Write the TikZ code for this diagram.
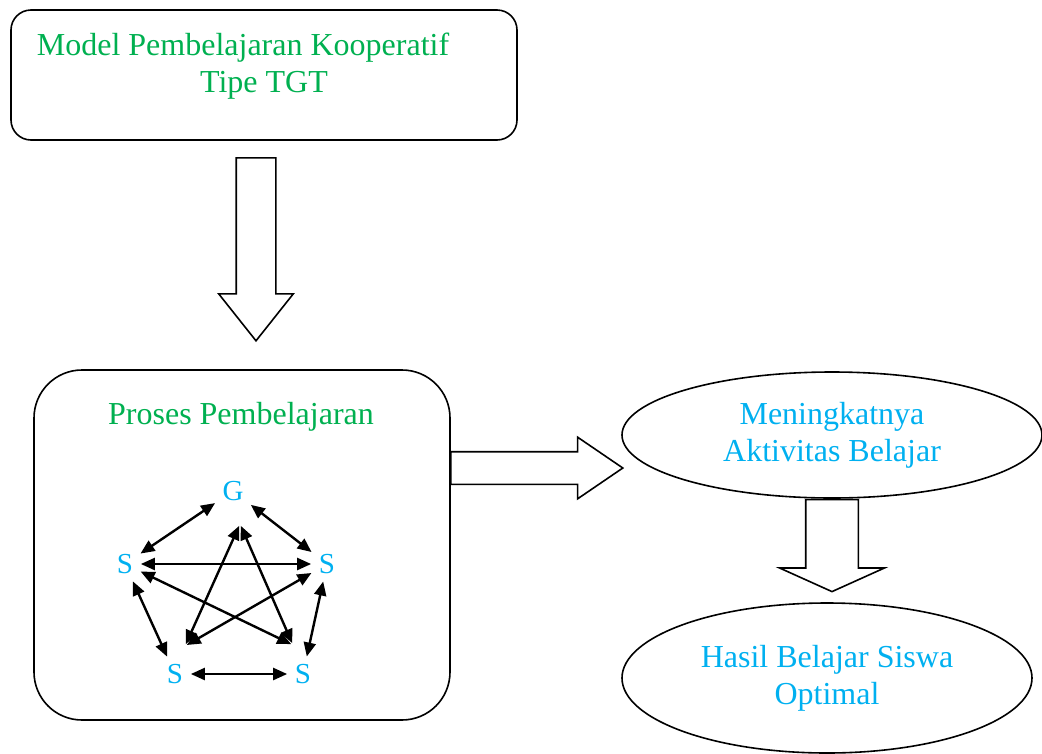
\documentclass[tikz,border=0pt]{standalone}
\usepackage{fontspec}
\setmainfont{Liberation Serif}
\usetikzlibrary{positioning,arrows.meta,shapes.geometric,shapes.arrows}
\definecolor{tgtgreen}{HTML}{00B050}
\definecolor{tgtblue}{HTML}{00B0F0}

\begin{document}
\begin{tikzpicture}[x=1pt, y=-1pt, line width=1.6pt,
  >={Triangle[length=14pt,width=12pt]},
  every node/.style={font=\fontsize{32}{37}\selectfont, align=center},
  box/.style={draw, rounded corners=#1, inner sep=0pt}, box/.default=20pt,
  fatarrow/.style={draw, single arrow, single arrow head indent=0pt,
    inner xsep=0pt, minimum width=0pt, anchor=tail},
  oval/.style={draw, ellipse, inner sep=0pt, text=tgtblue},
  person/.style={text=tgtblue, font=\fontsize{29}{32}\selectfont, inner sep=5pt},
  link/.style={<->, line width=2.4pt, shorten <=2pt, shorten >=2pt}]
  \useasboundingbox (0,0) rectangle (1042,753);

  % model box
  \node[box, minimum width=506pt, minimum height=130pt] (model) at (264,75) {};
  \node[text=tgtgreen] (modeltxt) at (243,66)
    {Model Pembelajaran Kooperatif\\\hspace*{42pt}Tipe TGT};

  % process box
  \node[box=48pt, minimum width=416pt, minimum height=350pt] (proses) at (242,545) {};
  \node[text=tgtgreen, anchor=base] (prosestxt) at (241,424) {Proses Pembelajaran};

  % outcomes
  \node[oval, minimum width=420pt, minimum height=126pt] (aktiv) at (832,435)
    {Meningkatnya\\Aktivitas Belajar};
  \node[oval, minimum width=410pt, minimum height=150pt] (hasil) at (827,678)
    {Hasil Belajar Siswa\\Optimal};

  % block arrows
  \node[fatarrow, rotate=-90, inner ysep=19pt, single arrow head extend=17.5pt,
    single arrow tip angle=76.9, minimum height=183pt] (arr1) at (256,157) {};
  \node[fatarrow, inner ysep=15.5pt, single arrow head extend=14.5pt,
    single arrow tip angle=68.6, minimum height=172pt] (arr2) at (450,468) {};
  \node[fatarrow, rotate=-90, inner ysep=25.5pt, single arrow head extend=26pt,
    single arrow tip angle=131.5, minimum height=92pt] (arr3) at (aktiv.south) {};

  % teacher and students
  \node[person] (g) at (233,491) {G};
  \node[person] (sl) at (125,564) {S};
  \node[person] (sr) at (327,564) {S};
  \node[person] (sbl) at (175,674) {S};
  \node[person] (sbr) at (303,674) {S};
  \coordinate (top) at (240,524);
  \coordinate (inl) at (185,646);
  \coordinate (inr) at (293,645);

  \draw[link] (g) -- (sl);
  \draw[link] (g) -- (sr);
  \draw[link] (sl) -- (sbl);
  \draw[link] (sr) -- (sbr);
  \draw[link] (sbl) -- (sbr);
  \draw[link] (sl) -- (sr);
  \draw[link] (top) -- (inl);
  \draw[link] (top) -- (inr);
  \draw[link] (sl) -- (inr);
  \draw[link] (sr) -- (inl);
\end{tikzpicture}
\end{document}
